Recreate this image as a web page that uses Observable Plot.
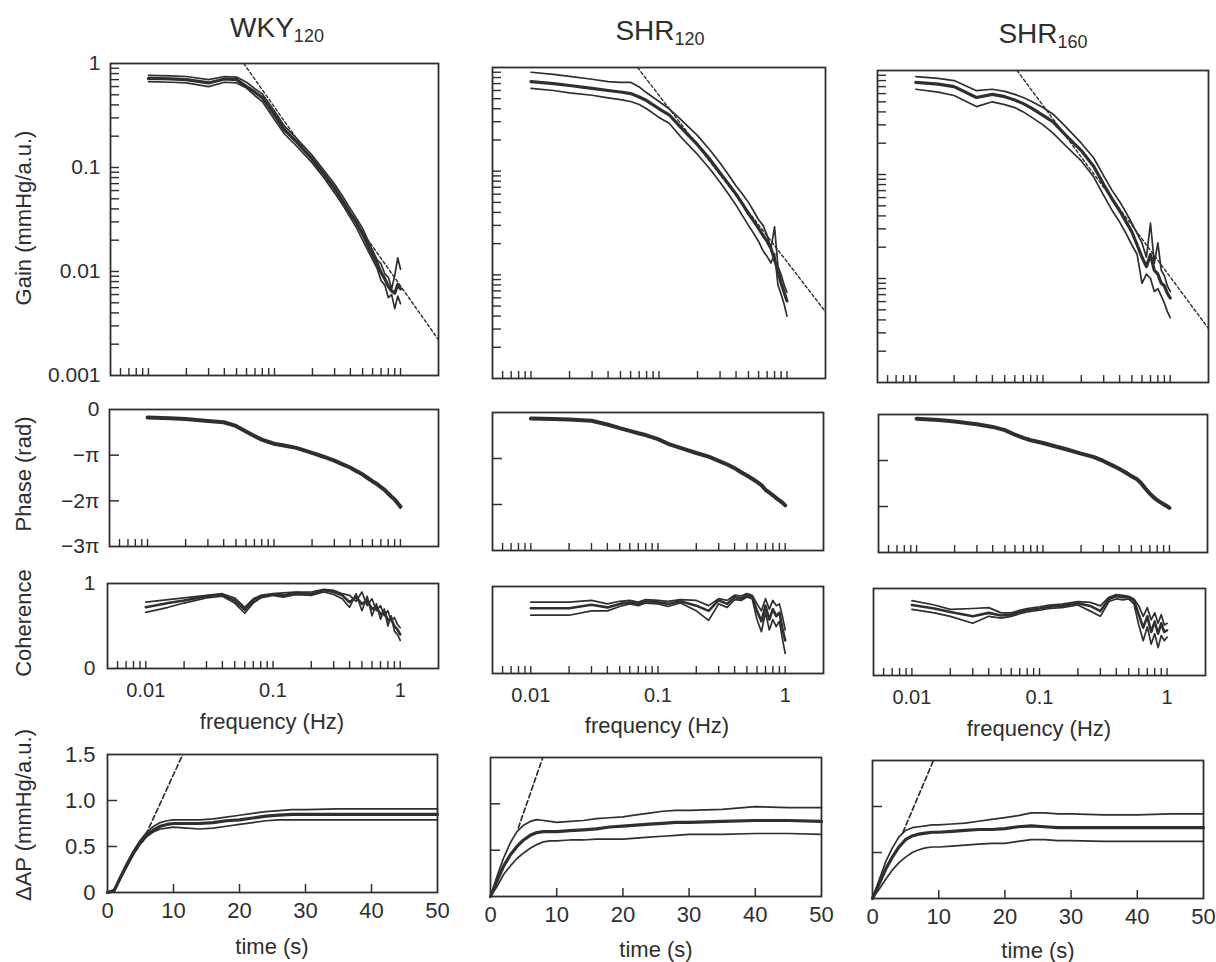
<!DOCTYPE html>
<html><head><meta charset="utf-8">
<script src="https://cdn.jsdelivr.net/npm/d3@7"></script>
<script src="https://cdn.jsdelivr.net/npm/@observablehq/plot@0.6"></script>
<style>
body{margin:0;background:#fff;}
#fig{position:relative;width:1216px;height:962px;overflow:hidden;background:#fff;font-family:"Liberation Sans",Arial,sans-serif;color:#2e2e2e;}
.lbl{position:absolute;white-space:nowrap;line-height:1;}
.title{font-size:28px;transform:translate(-50%,-50%);}
.title sub{font-size:18px;vertical-align:-5px;}
.ylab{font-size:22px;transform:translate(-50%,-50%) rotate(-90deg);}
.xlab{font-size:22px;transform:translate(-50%,-50%);}
</style></head><body><div id="fig"></div>
<script>
// ---------- data ----------
const groups = ["WKY", "SHR", "SHR"];
const groupSubs = ["120", "120", "160"];

const freq = [0.01,0.015,0.02,0.03,0.04,0.05,0.06,0.07,0.08,0.1,0.12,0.15,0.2,0.25,0.3,0.35,0.4,0.45,0.5,0.55,0.6,0.65,0.7,0.75,0.8,0.85,0.9,0.95,1.0];
const time = [0,1,2,3,4,5,6,7,8,9,10,12,14,16,18,20,22,24,26,28,30,35,40,45,50];

// Gain (mmHg/a.u.)
const gainWKYMean = [0.72,0.71,0.70,0.65,0.71,0.70,0.60,0.53,0.47,0.32,0.23,0.175,0.12,0.085,0.063,0.047,0.036,0.029,0.023,0.018,0.0145,0.012,0.0098,0.0085,0.0072,0.0065,0.0062,0.0075,0.0068];
const gainWKYHi   = [0.77,0.76,0.75,0.70,0.75,0.74,0.66,0.57,0.51,0.35,0.25,0.19,0.13,0.092,0.069,0.052,0.040,0.032,0.026,0.020,0.016,0.013,0.0118,0.0095,0.0088,0.0068,0.0092,0.0135,0.0105];
const gainWKYLo   = [0.67,0.66,0.65,0.60,0.66,0.65,0.58,0.49,0.43,0.29,0.21,0.16,0.11,0.078,0.057,0.043,0.033,0.026,0.020,0.016,0.013,0.0108,0.0082,0.0074,0.0056,0.0060,0.0044,0.0058,0.0049];
const gainSHR120Mean = [0.73,0.70,0.67,0.63,0.60,0.58,0.56,0.52,0.48,0.40,0.35,0.26,0.18,0.13,0.096,0.075,0.060,0.048,0.039,0.033,0.028,0.024,0.021,0.018,0.014,0.011,0.0083,0.0068,0.0056];
const gainSHR120Hi   = [0.90,0.86,0.82,0.77,0.73,0.72,0.72,0.65,0.57,0.47,0.40,0.31,0.22,0.16,0.12,0.092,0.072,0.060,0.050,0.041,0.034,0.030,0.024,0.018,0.029,0.012,0.010,0.0080,0.0068];
const gainSHR120Lo   = [0.63,0.60,0.57,0.54,0.51,0.49,0.47,0.44,0.40,0.33,0.29,0.21,0.145,0.105,0.078,0.060,0.047,0.037,0.030,0.025,0.021,0.017,0.015,0.013,0.016,0.008,0.0065,0.0052,0.004];
const gainSHR160Mean = [0.77,0.74,0.70,0.55,0.59,0.56,0.52,0.48,0.44,0.37,0.32,0.24,0.17,0.12,0.080,0.058,0.045,0.035,0.028,0.021,0.016,0.013,0.017,0.012,0.011,0.009,0.0085,0.0072,0.0065];
const gainSHR160Hi   = [0.875,0.84,0.80,0.64,0.66,0.63,0.59,0.55,0.51,0.44,0.38,0.29,0.20,0.145,0.097,0.070,0.055,0.043,0.034,0.027,0.022,0.016,0.034,0.014,0.022,0.012,0.0106,0.0085,0.0075];
const gainSHR160Lo   = [0.66,0.62,0.575,0.45,0.50,0.47,0.44,0.40,0.36,0.30,0.25,0.19,0.135,0.095,0.063,0.045,0.035,0.027,0.021,0.017,0.009,0.011,0.010,0.0075,0.008,0.0068,0.0058,0.0048,0.0042];
// dashed high-frequency asymptotes (two end points each)
const asymFreqWKY = [0.057, 2], asymGainWKY = [1, 0.0022];
const asymFreqSHR120 = [0.068, 2], asymGainSHR120 = [1, 0.0044];
const asymFreqSHR160 = [0.0625, 2], asymGainSHR160 = [1, 0.0033];

// Phase (in units of pi rad)
const phaseWKY    = [-0.175,-0.19,-0.21,-0.25,-0.28,-0.36,-0.48,-0.58,-0.66,-0.75,-0.79,-0.84,-0.95,-1.04,-1.12,-1.20,-1.27,-1.35,-1.42,-1.50,-1.57,-1.63,-1.70,-1.76,-1.84,-1.91,-1.97,-2.05,-2.13];
const phaseSHR120 = [-0.13,-0.14,-0.15,-0.18,-0.26,-0.34,-0.40,-0.45,-0.49,-0.58,-0.68,-0.77,-0.88,-0.96,-1.05,-1.13,-1.21,-1.30,-1.37,-1.44,-1.51,-1.58,-1.68,-1.74,-1.80,-1.86,-1.91,-1.96,-2.02];
const phaseSHR160 = [-0.09,-0.12,-0.15,-0.21,-0.27,-0.34,-0.44,-0.51,-0.56,-0.62,-0.68,-0.75,-0.85,-0.92,-1.01,-1.10,-1.18,-1.26,-1.34,-1.40,-1.50,-1.62,-1.72,-1.80,-1.86,-1.91,-1.95,-1.99,-2.03];

// Coherence
const cohWKYMean = [0.72,0.77,0.80,0.85,0.87,0.80,0.69,0.80,0.85,0.87,0.86,0.89,0.88,0.92,0.90,0.86,0.78,0.84,0.76,0.80,0.70,0.72,0.64,0.66,0.57,0.58,0.50,0.46,0.40];
const cohWKYHi   = [0.78,0.81,0.83,0.86,0.88,0.83,0.72,0.82,0.86,0.88,0.89,0.90,0.90,0.93,0.92,0.88,0.86,0.79,0.90,0.74,0.82,0.68,0.74,0.62,0.68,0.56,0.60,0.52,0.48];
const cohWKYLo   = [0.66,0.72,0.77,0.83,0.85,0.77,0.65,0.77,0.83,0.86,0.84,0.87,0.86,0.90,0.87,0.82,0.72,0.88,0.68,0.85,0.62,0.76,0.58,0.70,0.50,0.62,0.44,0.40,0.33];
const cohSHR120Mean = [0.75,0.75,0.75,0.79,0.76,0.80,0.82,0.80,0.83,0.82,0.80,0.83,0.78,0.72,0.84,0.80,0.88,0.86,0.90,0.88,0.72,0.60,0.78,0.62,0.74,0.66,0.70,0.52,0.38];
const cohSHR120Hi   = [0.82,0.82,0.82,0.84,0.80,0.83,0.84,0.82,0.85,0.84,0.83,0.85,0.84,0.78,0.86,0.84,0.90,0.89,0.92,0.90,0.80,0.72,0.86,0.74,0.84,0.78,0.80,0.66,0.50];
const cohSHR120Lo   = [0.67,0.67,0.67,0.72,0.72,0.77,0.80,0.78,0.81,0.80,0.77,0.81,0.72,0.61,0.80,0.76,0.85,0.84,0.88,0.86,0.62,0.48,0.70,0.50,0.62,0.54,0.60,0.40,0.23];
const cohSHR160Mean = [0.81,0.77,0.73,0.68,0.72,0.69,0.70,0.73,0.75,0.77,0.79,0.80,0.83,0.80,0.74,0.88,0.91,0.90,0.90,0.86,0.70,0.55,0.68,0.50,0.62,0.48,0.60,0.50,0.52];
const cohSHR160Hi   = [0.86,0.81,0.76,0.77,0.78,0.72,0.72,0.75,0.77,0.79,0.81,0.82,0.85,0.84,0.80,0.90,0.93,0.92,0.91,0.88,0.80,0.68,0.78,0.64,0.72,0.60,0.70,0.58,0.60];
const cohSHR160Lo   = [0.76,0.72,0.68,0.60,0.68,0.66,0.68,0.71,0.73,0.75,0.77,0.78,0.81,0.74,0.68,0.85,0.88,0.87,0.88,0.82,0.58,0.40,0.56,0.36,0.48,0.32,0.46,0.40,0.44];

// Step response ΔAP (mmHg/a.u.)
const stepWKYMean = [0,0.02,0.17,0.31,0.44,0.55,0.63,0.68,0.72,0.74,0.75,0.75,0.75,0.76,0.78,0.79,0.81,0.83,0.84,0.85,0.85,0.85,0.85,0.85,0.85];
const stepWKYHi   = [0,0.03,0.18,0.33,0.46,0.57,0.66,0.72,0.76,0.78,0.79,0.79,0.79,0.80,0.82,0.84,0.86,0.88,0.89,0.90,0.90,0.91,0.91,0.91,0.91];
const stepWKYLo   = [0,0.01,0.15,0.29,0.42,0.53,0.61,0.66,0.69,0.70,0.71,0.70,0.69,0.70,0.72,0.74,0.76,0.78,0.79,0.79,0.79,0.79,0.79,0.79,0.79];
const stepSHR120Mean = [0,0.17,0.33,0.45,0.54,0.61,0.66,0.69,0.70,0.70,0.70,0.71,0.72,0.73,0.75,0.76,0.77,0.78,0.79,0.80,0.80,0.81,0.82,0.82,0.81];
const stepSHR120Hi   = [0,0.22,0.42,0.58,0.70,0.77,0.81,0.83,0.82,0.81,0.80,0.81,0.82,0.84,0.85,0.86,0.88,0.90,0.92,0.93,0.93,0.94,0.97,0.96,0.96];
const stepSHR120Lo   = [0,0.11,0.24,0.33,0.41,0.47,0.52,0.56,0.59,0.60,0.60,0.61,0.61,0.62,0.62,0.62,0.63,0.64,0.65,0.66,0.67,0.67,0.68,0.68,0.67];
const stepSHR160Mean = [0,0.16,0.32,0.45,0.56,0.64,0.68,0.70,0.71,0.72,0.72,0.73,0.74,0.75,0.75,0.76,0.78,0.79,0.78,0.77,0.77,0.77,0.77,0.77,0.77];
const stepSHR160Hi   = [0,0.20,0.40,0.55,0.67,0.74,0.77,0.78,0.79,0.80,0.80,0.81,0.82,0.84,0.86,0.88,0.90,0.93,0.93,0.92,0.92,0.91,0.91,0.92,0.92];
const stepSHR160Lo   = [0,0.10,0.21,0.31,0.39,0.45,0.50,0.53,0.55,0.56,0.56,0.57,0.58,0.59,0.60,0.60,0.62,0.64,0.64,0.63,0.63,0.62,0.62,0.62,0.62];
// dashed initial-slope lines (two end points each)
const slopeTimeWKY = [5.3, 11.4], slopeAPWKY = [0.55, 1.5];
const slopeTimeSHR120 = [4.2, 7.9], slopeAPSHR120 = [0.74, 1.5];
const slopeTimeSHR160 = [4.6, 9.2], slopeAPSHR160 = [0.72, 1.5];

// ticks and tick labels
const freqTicks = [0.006,0.007,0.008,0.009,0.01,0.02,0.03,0.04,0.05,0.06,0.07,0.08,0.09,0.1,0.2,0.3,0.4,0.5,0.6,0.7,0.8,0.9,1];
const freqLabels = [0.01, 0.1, 1];
const gainTicks = [0.002,0.003,0.004,0.005,0.006,0.007,0.008,0.009,0.01,0.02,0.03,0.04,0.05,0.06,0.07,0.08,0.09,0.1,0.2,0.3,0.4,0.5,0.6,0.7,0.8,0.9];
const gainLabels = [0.001, 0.01, 0.1, 1];
const phaseTicks = [-1, -2];
const phaseLabels = [0, -1, -2, -3];
const phaseLabelText = ["0", "\u2212\u03c0", "\u22122\u03c0", "\u22123\u03c0"];
const cohLabels = [0, 1];
const stepYTicks = [0.5, 1.0];
const stepYLabels = [0, 0.5, 1.0, 1.5];
const stepXTicks = [10, 20, 30, 40];
const stepXLabels = [0, 10, 20, 30, 40, 50];

// ---------- layout ----------
const INK = "#2f2f2f";
const fig = document.getElementById("fig");
const cols = [
  {gain:{x0:110,x1:438,y0:63,y1:375}, phase:{x0:109,x1:438,y0:409,y1:546}, coh:{x0:107,x1:438,y0:583,y1:668}, step:{x0:107,x1:437,y0:754,y1:892},
   title:[277,29], flab:[272,722], tlab:[272,947]},
  {gain:{x0:492,x1:825,y0:67,y1:378}, phase:{x0:492,x1:823,y0:412,y1:550}, coh:{x0:492,x1:823,y0:586,y1:673}, step:{x0:490,x1:821,y0:757,y1:896},
   title:[660,32], flab:[657,726], tlab:[656,950]},
  {gain:{x0:877,x1:1208,y0:70,y1:382}, phase:{x0:878,x1:1207,y0:414,y1:552}, coh:{x0:873,x1:1205,y0:588,y1:675}, step:{x0:872,x1:1203,y0:760,y1:898},
   title:[1043,35], flab:[1039,729], tlab:[1038,951]}
];
const series = [
  {gM:gainWKYMean,gH:gainWKYHi,gL:gainWKYLo,aF:asymFreqWKY,aG:asymGainWKY,ph:phaseWKY,cM:cohWKYMean,cH:cohWKYHi,cL:cohWKYLo,sM:stepWKYMean,sH:stepWKYHi,sL:stepWKYLo,dT:slopeTimeWKY,dA:slopeAPWKY},
  {gM:gainSHR120Mean,gH:gainSHR120Hi,gL:gainSHR120Lo,aF:asymFreqSHR120,aG:asymGainSHR120,ph:phaseSHR120,cM:cohSHR120Mean,cH:cohSHR120Hi,cL:cohSHR120Lo,sM:stepSHR120Mean,sH:stepSHR120Hi,sL:stepSHR120Lo,dT:slopeTimeSHR120,dA:slopeAPSHR120},
  {gM:gainSHR160Mean,gH:gainSHR160Hi,gL:gainSHR160Lo,aF:asymFreqSHR160,aG:asymGainSHR160,ph:phaseSHR160,cM:cohSHR160Mean,cH:cohSHR160Hi,cL:cohSHR160Lo,sM:stepSHR160Mean,sH:stepSHR160Hi,sL:stepSHR160Lo,dT:slopeTimeSHR160,dA:slopeAPSHR160}
];

const ML = 90, MR = 20, MT = 10, MB = 45;
const baseStyle = {background:"transparent", fontFamily:"'Liberation Sans', Arial, sans-serif", fontSize:"20px", color:"#2e2e2e", overflow:"visible"};

function place(g, x, y, marks) {
  const w = g.x1 - g.x0, h = g.y1 - g.y0;
  const svg = Plot.plot({
    width: w + ML + MR, height: h + MT + MB,
    marginLeft: ML, marginRight: MR, marginTop: MT, marginBottom: MB,
    style: baseStyle, x, y, marks: marks(w, h)
  });
  svg.style.position = "absolute";
  svg.style.left = (g.x0 - ML) + "px";
  svg.style.top = (g.y0 - MT) + "px";
  fig.appendChild(svg);
}

const fx = {type:"log", domain:[0.005, 2], axis:null};
const frame = () => Plot.frame({stroke: INK, strokeWidth: 1.8});
const xTicks = (h) => Plot.tickX(freqTicks, {x: d => d, insetTop: h - 7, stroke: INK, strokeWidth: 1.4});
const THIN = 1.7, THICK = 3.2;

cols.forEach((c, k) => {
  const s = series[k];
  const rows = freq.map((f, i) => ({f, gm: s.gM[i], gh: s.gH[i], gl: s.gL[i], ph: s.ph[i], cm: s.cM[i], ch: s.cH[i], cl: s.cL[i]}));
  const asym = s.aF.map((f, i) => ({f, v: s.aG[i]}));
  const steps = time.map((t, i) => ({t, m: s.sM[i], h: s.sH[i], l: s.sL[i]}));
  const slope = s.dT.map((t, i) => ({t, v: s.dA[i]}));
  const first = k === 0;

  // Gain
  place(c.gain, fx, {type:"log", domain:[0.001, 1], axis:null}, (w, h) => [
    frame(), xTicks(h),
    Plot.tickY(gainTicks, {y: d => d, insetRight: w - 9, stroke: INK, strokeWidth: 1.4}),
    Plot.line(asym, {x:"f", y:"v", stroke: INK, strokeWidth: 1.4, strokeDasharray: "3,2.5", clip: true}),
    Plot.line(rows, {x:"f", y:"gh", stroke: INK, strokeWidth: THIN}),
    Plot.line(rows, {x:"f", y:"gl", stroke: INK, strokeWidth: THIN}),
    Plot.line(rows, {x:"f", y:"gm", stroke: INK, strokeWidth: THICK}),
    ...(first ? [Plot.axisY(gainLabels, {anchor:"left", tickSize:0, tickPadding:10, tickFormat: d => String(d), label:null, fontSize: 21})] : [])
  ]);

  // Phase
  place(c.phase, fx, {domain:[-3, 0], axis:null}, (w, h) => [
    frame(), xTicks(h),
    Plot.tickY(phaseTicks, {y: d => d, insetRight: w - 10, stroke: INK, strokeWidth: 1.5}),
    Plot.line(rows, {x:"f", y:"ph", stroke: INK, strokeWidth: 4}),
    ...(first ? [Plot.axisY(phaseLabels, {anchor:"left", tickSize:0, tickPadding:10, tickFormat: d => phaseLabelText[phaseLabels.indexOf(d)], label:null, fontSize: 21})] : [])
  ]);

  // Coherence
  place(c.coh, fx, {domain:[0, 1], axis:null}, (w, h) => [
    frame(), xTicks(h),
    Plot.line(rows, {x:"f", y:"ch", stroke: INK, strokeWidth: THIN}),
    Plot.line(rows, {x:"f", y:"cl", stroke: INK, strokeWidth: THIN}),
    Plot.line(rows, {x:"f", y:"cm", stroke: INK, strokeWidth: 2.6}),
    Plot.axisX(freqLabels, {anchor:"bottom", tickSize:0, tickPadding:14, tickFormat: d => String(d), label:null, fontSize: 20}),
    ...(first ? [Plot.axisY(cohLabels, {anchor:"left", tickSize:0, tickPadding:12, tickFormat: d => String(d), label:null, fontSize: 21})] : [])
  ]);

  // Step response
  place(c.step, {domain:[0, 50], axis:null}, {domain:[0, 1.5], axis:null}, (w, h) => [
    frame(),
    Plot.tickX(stepXTicks, {x: d => d, insetTop: h - 8, stroke: INK, strokeWidth: 1.5}),
    Plot.tickY(stepYTicks, {y: d => d, insetRight: w - 10, stroke: INK, strokeWidth: 1.5}),
    Plot.line(slope, {x:"t", y:"v", stroke: INK, strokeWidth: 1.7, strokeDasharray: "5,3", clip: true}),
    Plot.line(steps, {x:"t", y:"h", stroke: INK, strokeWidth: THIN}),
    Plot.line(steps, {x:"t", y:"l", stroke: INK, strokeWidth: THIN}),
    Plot.line(steps, {x:"t", y:"m", stroke: INK, strokeWidth: THICK}),
    Plot.axisX(stepXLabels, {anchor:"bottom", tickSize:0, tickPadding:10, tickFormat: d => String(d), label:null, fontSize: 22}),
    ...(first ? [Plot.axisY(stepYLabels, {anchor:"left", tickSize:0, tickPadding:12, tickFormat: d => d === 0 ? "0" : d3.format(".1f")(d), label:null, fontSize: 22})] : [])
  ]);

  // Text labels
  const addLbl = (cls, xy, html) => {
    const d = document.createElement("div");
    d.className = "lbl " + cls;
    d.style.left = xy[0] + "px"; d.style.top = xy[1] + "px";
    d.innerHTML = html; fig.appendChild(d);
  };
  addLbl("title", c.title, groups[k] + "<sub>" + groupSubs[k] + "</sub>");
  addLbl("xlab", c.flab, "frequency (Hz)");
  addLbl("xlab", c.tlab, "time (s)");
});

const yLabels = [["Gain (mmHg/a.u.)", 24, 218], ["Phase (rad)", 24, 474], ["Coherence", 24, 623], ["\u0394AP (mmHg/a.u.)", 24, 815]];
yLabels.forEach(([t, x, y]) => {
  const d = document.createElement("div");
  d.className = "lbl ylab"; d.style.left = x + "px"; d.style.top = y + "px";
  d.textContent = t; fig.appendChild(d);
});
</script>
</body></html>
